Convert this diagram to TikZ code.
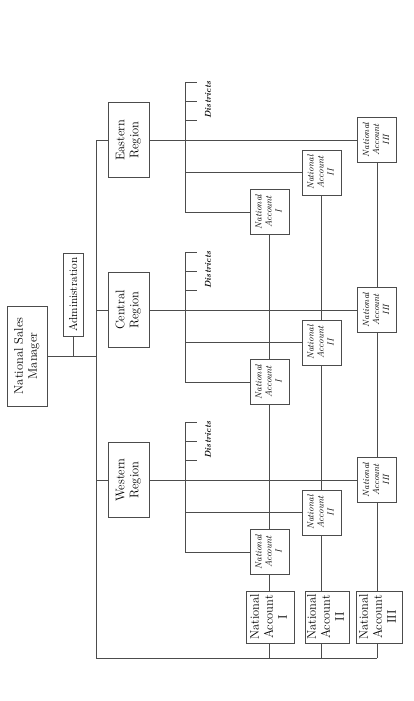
\documentclass[tikz,border=0pt]{standalone}
\usepackage{graphicx}
\usetikzlibrary{calc}
\newcommand\rtxt[1]{\rotatebox{90}{\begin{tabular}{@{}c@{}}#1\end{tabular}}}
\begin{document}
\begin{tikzpicture}[x=1pt,y=-1pt,
  ln/.style={draw=black!70,line width=0.7pt},
  box/.style={draw=black!70,line width=0.7pt,fill=white,inner sep=0pt,anchor=center},
  bigf/.style={font=\fontsize{12.5}{14}\selectfont},
  sbox/.style={box,minimum width=39pt,minimum height=45pt,font=\fontsize{9}{10}\selectfont\itshape},
  rbox/.style={box,bigf,minimum width=41pt,minimum height=75pt},
  bbox/.style={box,bigf,minimum height=52pt},
  dist/.style={inner sep=0pt,font=\fontsize{8.5}{9}\selectfont\bfseries\itshape}
]
\useasboundingbox (0,0) rectangle (413,701);

\coordinate (top) at (96,140);
\coordinate (bot) at (96,658);

\node[box,bigf,minimum width=40pt,minimum height=100pt] (nsm) at (27,356) {\rtxt{National Sales\\Manager}};
\node[box,font=\fontsize{11.5}{14}\selectfont,minimum width=20pt,minimum height=83pt] (adm) at (73,294.5) {\rotatebox{90}{Administration}};

\draw[ln] (nsm.east) -- (nsm.east -| top);
\draw[ln] (adm.south) -- (adm.south |- nsm.east);
\draw[ln] (top) -- (bot);

\foreach \n/\t/\y in {e/Eastern/140,c/Central/310,w/Western/480}{
  \node[rbox] (R\n) at (128.5,\y) {\rtxt{\t\\Region}};
  \node[sbox] (A3\n) at (377,\y) {\rtxt{National\\Account\\III}};
  \node[sbox] (A2\n) at (321.5,\y+32.5) {\rtxt{National\\Account\\II}};
  \node[sbox] (A1\n) at (269.5,\y+72) {\rtxt{National\\Account\\I}};
  \coordinate (T\n) at (185,\y-58);
  \draw[ln] (R\n.west) -- (R\n.west -| top);
  \draw[ln] (R\n.east) -- (A3\n.west);
  \draw[ln] (T\n) -- (T\n |- A1\n.west);
  \draw[ln] (T\n |- A2\n.west) -- (A2\n.west);
  \draw[ln] (T\n |- A1\n.west) -- (A1\n.west);
  \foreach \d in {0,19,38}{\draw[ln] ($(T\n)+(0,\d)$) -- ++(12,0);}
  \node[dist] (D\n) at (208,\y-40) {\rotatebox{90}{Districts}};
}

\node[bbox,minimum width=48pt] (B1) at (270,617) {\rtxt{National\\Account\\I}};
\node[bbox,minimum width=44pt] (B2) at (327,617) {\rtxt{National\\Account\\II}};
\node[bbox,minimum width=46pt] (B3) at (379,617) {\rtxt{National\\Account\\III}};

\draw[ln] (A1e.south) -- (A1c.north);
\draw[ln] (A1c.south) -- (A1w.north);
\draw[ln] (A1w.south) -- (A1w.south |- B1.north);
\draw[ln] (A1w.south |- B1.south) -- (A1w.south |- bot);

\draw[ln] (A2e.south) -- (A2c.north);
\draw[ln] (A2c.south) -- (A2w.north);
\draw[ln] (A2w.south) -- (A2w.south |- B2.north);
\draw[ln] (A2w.south |- B2.south) -- (A2w.south |- bot);

\draw[ln] (A3e.south) -- (A3c.north);
\draw[ln] (A3c.south) -- (A3w.north);
\draw[ln] (A3w.south) -- (A3w.south |- B3.north);
\draw[ln] (A3w.south |- B3.south) -- (A3w.south |- bot);

\draw[ln] (bot) -- (A3w.south |- bot);
\end{tikzpicture}
\end{document}
